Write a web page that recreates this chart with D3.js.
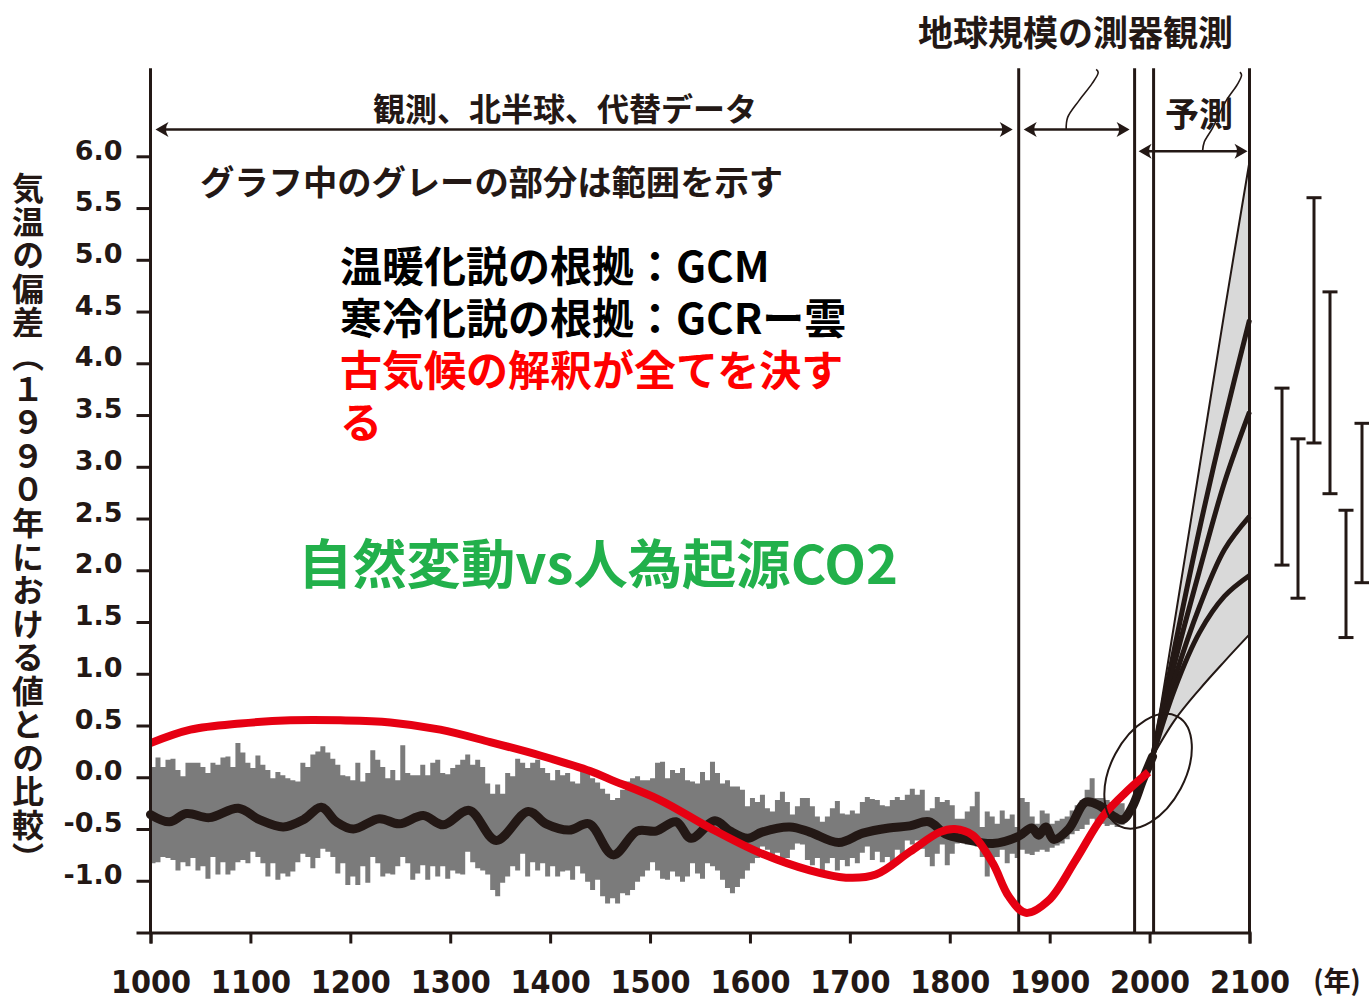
<!DOCTYPE html>
<html lang="ja">
<head>
<meta charset="utf-8">
<script src="https://cdn.jsdelivr.net/npm/d3@7"></script>
<style>
  html, body { margin: 0; padding: 0; background: #fff; }
  svg { display: block; }
</style>
</head>
<body>
<svg id="chart" width="1369" height="1000"></svg>
<script>
// ---------------- data ----------------
const yearTicks = [1000, 1100, 1200, 1300, 1400, 1500, 1600, 1700, 1800, 1900, 2000, 2100];
const valueTicks = [-1.5, -1.0, -0.5, 0.0, 0.5, 1.0, 1.5, 2.0, 2.5, 3.0, 3.5, 4.0, 4.5, 5.0, 5.5, 6.0];
const labelledTicks = [-1.0, -0.5, 0.0, 0.5, 1.0, 1.5, 2.0, 2.5, 3.0, 3.5, 4.0, 4.5, 5.0, 5.5, 6.0];

// period boundaries (years)
const periodLines = [1869, 1985, 2004, 2100];

// proxy range (grey band), 5-year bins starting at 1000
const bandStartYear = 1000;
const bandStepYears = 5;
const bandUpper = [
  0.10, 0.19, 0.10, 0.17, 0.18, 0.07, 0.01, 0.14, 0.14, 0.14,
  0.10, 0.04, 0.14, 0.12, 0.19, 0.20, 0.10, 0.33, 0.24, 0.14,
  0.09, 0.21, 0.12, 0.07, -0.01, 0.05, 0.02, -0.01, -0.03, -0.04,
  0.14, 0.10, 0.22, 0.25, 0.30, 0.24, 0.18, 0.12, 0.02, 0.01,
  -0.03, 0.14, -0.04, 0.04, 0.26, 0.17, 0.10, -0.01, 0.07, -0.03,
  0.31, 0.04, 0.02, 0.02, 0.12, 0.02, 0.14, 0.17, 0.04, 0.03,
  0.09, 0.12, 0.17, 0.22, 0.12, 0.17, 0.10, -0.06, -0.16, -0.07,
  -0.16, 0.04, 0.01, 0.18, 0.14, 0.09, 0.14, 0.17, 0.09, 0.04,
  -0.03, 0.07, 0.02, 0.04, -0.04, -0.06, 0.06, 0.05, -0.01, -0.05,
  -0.11, -0.16, -0.22, -0.20, -0.12, -0.04, -0.01, 0.01, -0.03, -0.03,
  -0.01, 0.14, 0.15, -0.01, 0.07, 0.04, 0.09, -0.03, -0.04, -0.06,
  0.05, -0.03, 0.15, 0.04, -0.06, -0.03, -0.09, -0.09, -0.12, -0.28,
  -0.20, -0.24, -0.17, -0.30, -0.33, -0.22, -0.14, -0.24, -0.36, -0.28,
  -0.20, -0.20, -0.28, -0.38, -0.43, -0.38, -0.30, -0.23, -0.35, -0.36,
  -0.32, -0.35, -0.24, -0.19, -0.21, -0.22, -0.27, -0.28, -0.22, -0.19,
  -0.22, -0.17, -0.11, -0.17, -0.12, -0.32, -0.30, -0.19, -0.24, -0.22,
  -0.27, -0.40, -0.40, -0.33, -0.28, -0.14, -0.48, -0.33, -0.38, -0.45,
  -0.32, -0.40, -0.36, -0.48, -0.20, -0.24, -0.38, -0.45, -0.32, -0.35,
  -0.45, -0.42, -0.40, -0.38, -0.32, -0.27, -0.22, -0.12, -0.01, -0.20,
  -0.20, -0.22, -0.24, -0.25, -0.25
];
const bandLower = [
  -0.83, -0.82, -0.77, -0.78, -0.80, -0.90, -0.82, -0.86, -0.78, -0.90,
  -0.86, -0.98, -0.77, -0.94, -0.82, -0.94, -0.90, -0.82, -0.80, -0.83,
  -0.72, -0.77, -0.83, -0.96, -0.83, -0.99, -0.93, -0.96, -0.91, -0.82,
  -0.74, -0.77, -0.88, -0.78, -0.69, -0.72, -0.77, -0.93, -0.83, -1.04,
  -0.96, -1.04, -0.86, -1.02, -0.77, -0.83, -0.96, -0.93, -0.94, -0.86,
  -0.77, -0.83, -0.99, -0.93, -0.85, -0.99, -0.86, -0.96, -0.86, -0.98,
  -0.90, -0.93, -0.94, -0.72, -0.82, -0.88, -0.90, -0.94, -1.09, -1.15,
  -1.02, -0.96, -0.86, -0.90, -0.74, -0.96, -0.82, -0.90, -0.83, -0.96,
  -0.86, -0.96, -0.91, -0.90, -0.99, -0.86, -0.93, -1.01, -1.09, -0.99,
  -1.15, -1.22, -1.17, -1.22, -1.12, -1.14, -1.09, -1.01, -0.96, -0.90,
  -0.82, -0.90, -0.98, -0.99, -0.91, -0.96, -1.01, -0.96, -0.83, -0.93,
  -0.98, -0.83, -0.86, -0.90, -0.99, -1.07, -1.12, -1.06, -0.98, -0.90,
  -0.83, -0.78, -0.67, -0.70, -0.77, -0.73, -0.83, -0.78, -0.70, -0.64,
  -0.65, -0.80, -0.85, -0.78, -0.90, -0.83, -0.78, -0.90, -0.80, -0.86,
  -0.78, -0.83, -0.73, -0.67, -0.80, -0.72, -0.82, -0.77, -0.86, -0.70,
  -0.77, -0.61, -0.65, -0.61, -0.69, -0.77, -0.86, -0.74, -0.65, -0.85,
  -0.74, -0.64, -0.61, -0.65, -0.64, -0.67, -0.77, -0.96, -0.82, -0.77,
  -0.70, -0.83, -0.74, -0.78, -0.70, -0.74, -0.75, -0.72, -0.70, -0.72,
  -0.68, -0.66, -0.64, -0.60, -0.55, -0.52, -0.50, -0.46, -0.40, -0.42,
  -0.45, -0.47, -0.46, -0.48, -0.46
];

// smoothed northern-hemisphere reconstruction + instrumental record
const smoothYears = [1000, 1019, 1036, 1059, 1088, 1109, 1133, 1153, 1171, 1186, 1203, 1229,
  1249, 1273, 1293, 1319, 1346, 1378, 1396, 1419, 1439, 1463, 1487, 1506, 1526, 1541, 1565,
  1580, 1598, 1612, 1640, 1660, 1689, 1713, 1739, 1760, 1779, 1796, 1816, 1843, 1869, 1882,
  1889, 1896, 1904, 1919, 1936, 1949, 1963, 1973, 1983, 1993, 2003];
const smoothValues = [-0.36, -0.43, -0.35, -0.39, -0.30, -0.41, -0.48, -0.41, -0.29, -0.43, -0.50, -0.40,
  -0.45, -0.37, -0.46, -0.32, -0.61, -0.33, -0.45, -0.51, -0.45, -0.75, -0.52, -0.52, -0.43, -0.59, -0.42,
  -0.52, -0.59, -0.53, -0.48, -0.53, -0.63, -0.54, -0.49, -0.47, -0.43, -0.55, -0.60, -0.64, -0.57, -0.49,
  -0.56, -0.48, -0.60, -0.50, -0.24, -0.27, -0.37, -0.41, -0.28, -0.03, 0.20];

// paleoclimate interpretation (red curve)
const redYears = [1000, 1040, 1090, 1140, 1190, 1240, 1290, 1340, 1390, 1440, 1460, 1510, 1560,
  1610, 1660, 1696, 1726, 1760, 1790, 1805, 1823, 1843, 1859, 1876, 1899, 1926, 1953, 1979, 1999];
const redValues = [0.33, 0.46, 0.52, 0.55, 0.55, 0.53, 0.46, 0.34, 0.21, 0.06, -0.02, -0.22, -0.49,
  -0.73, -0.90, -0.97, -0.94, -0.72, -0.53, -0.50, -0.56, -0.83, -1.15, -1.31, -1.19, -0.80, -0.38, -0.12, 0.05];

// projections to 2100
const projYears = [2003, 2025, 2050, 2075, 2100];
const projEnvelopeHigh = [0.20, 1.50, 3.00, 4.50, 5.95];
const projEnvelopeLow  = [0.20, 0.55, 0.85, 1.12, 1.38];
const projScenarioA = [0.20, 1.25, 2.40, 3.45, 4.42];
const projScenarioB = [0.20, 1.10, 2.00, 2.85, 3.53];
const projScenarioC = [0.20, 0.95, 1.65, 2.20, 2.52];
const projScenarioD = [0.20, 0.85, 1.40, 1.75, 1.95];

// 2100 ranges per scenario (bars right of the plot)
const rangeScenarios = ["A1B", "A1T", "A1FI", "A2", "B1", "B2"];
const rangeHigh = [3.76, 3.27, 5.60, 4.69, 2.58, 3.42];
const rangeLow  = [2.05, 1.73, 3.23, 2.74, 1.35, 1.88];

// ---------------- layout ----------------
const ink = "#231815";
const svg = d3.select("#chart");
const x = d3.scaleLinear().domain([1000, 2100]).range([150.5, 1249.5]);
const y = d3.scaleLinear().domain([-1.5, 6.0]).range([932.5, 156.3]);
const axisTopValue = 6.85;
const xRange = d3.scalePoint().domain(rangeScenarios).range([1282, 1362]);

const jp = "'Noto Sans CJK JP', 'Noto Sans CJK SC', sans-serif";

// ---------------- grey proxy band ----------------
const band = bandUpper.map((u, i) => ({ year: bandStartYear + i * bandStepYears, hi: u, lo: bandLower[i] }));
band.push({ year: band[band.length - 1].year + bandStepYears, hi: bandUpper[bandUpper.length - 1], lo: bandLower[bandLower.length - 1] });
svg.append("path")
  .datum(band)
  .attr("fill", "#7b7b7b")
  .attr("d", d3.area().curve(d3.curveStepAfter)
    .x(d => x(d.year)).y0(d => y(d.lo)).y1(d => y(d.hi)));

// ---------------- projection fan fill ----------------
const fan = projYears.map((yr, i) => ({ year: yr, lo: projEnvelopeLow[i], hi: projEnvelopeHigh[i] }));
svg.append("path")
  .datum(fan)
  .attr("fill", "#d9d9d9")
  .attr("d", d3.area().curve(d3.curveCatmullRom)
    .x(d => x(d.year)).y0(d => y(d.lo)).y1(d => y(d.hi)));

// ---------------- period boundaries ----------------
svg.selectAll("line.period")
  .data(periodLines)
  .join("line")
  .attr("class", "period")
  .attr("x1", d => x(d)).attr("x2", d => x(d))
  .attr("y1", y(axisTopValue)).attr("y2", y(-1.5))
  .attr("stroke", ink).attr("stroke-width", 3);

// ---------------- smoothed record ----------------
const lineGen = d3.line().curve(d3.curveCatmullRom.alpha(0.5)).x(d => x(d[0])).y(d => y(d[1]));
svg.append("path")
  .datum(smoothYears.map((yr, i) => [yr, smoothValues[i]]))
  .attr("fill", "none").attr("stroke", ink)
  .attr("stroke-width", 9).attr("stroke-linejoin", "round").attr("stroke-linecap", "round")
  .attr("d", lineGen);

// ---------------- projection lines ----------------
const envelopeLines = [projEnvelopeHigh, projEnvelopeLow];
svg.selectAll("path.envelope")
  .data(envelopeLines)
  .join("path")
  .attr("class", "envelope")
  .attr("fill", "none").attr("stroke", ink).attr("stroke-width", 2)
  .attr("d", vals => lineGen(projYears.map((yr, i) => [yr, vals[i]])));

const scenarioLines = [projScenarioA, projScenarioB, projScenarioC, projScenarioD];
svg.selectAll("path.scenario")
  .data(scenarioLines)
  .join("path")
  .attr("class", "scenario")
  .attr("fill", "none").attr("stroke", ink).attr("stroke-width", 5)
  .attr("d", vals => lineGen(projYears.map((yr, i) => [yr, vals[i]])));

// ---------------- red interpretation curve ----------------
svg.append("path")
  .datum(redYears.map((yr, i) => [yr, redValues[i]]))
  .attr("fill", "none").attr("stroke", "#e60012")
  .attr("stroke-width", 8).attr("stroke-linejoin", "round")
  .attr("d", lineGen);

// ---------------- circled transition ----------------
svg.append("ellipse")
  .attr("transform", `translate(${x(1998.5)},${y(0.06)}) rotate(28)`)
  .attr("rx", 37).attr("ry", 62)
  .attr("fill", "none").attr("stroke", ink).attr("stroke-width", 2);

// ---------------- range bars ----------------
const bars = svg.append("g").attr("stroke", ink).attr("stroke-width", 3);
rangeScenarios.forEach((s, i) => {
  const cx = xRange(s);
  bars.append("line").attr("x1", cx).attr("x2", cx).attr("y1", y(rangeHigh[i])).attr("y2", y(rangeLow[i]));
  bars.append("line").attr("x1", cx - 7.5).attr("x2", cx + 7.5).attr("y1", y(rangeHigh[i])).attr("y2", y(rangeHigh[i]));
  bars.append("line").attr("x1", cx - 7.5).attr("x2", cx + 7.5).attr("y1", y(rangeLow[i])).attr("y2", y(rangeLow[i]));
});

// ---------------- axes ----------------
const fmt1 = d3.format(".1f");
const yAxis = svg.append("g")
  .attr("transform", `translate(${x(1000)},0)`)
  .call(d3.axisLeft(y).tickValues(valueTicks).tickSize(14).tickPadding(14)
    .tickFormat(v => labelledTicks.includes(v) ? fmt1(v).replace("\u2212", "-") : ""));
yAxis.select(".domain").remove();
yAxis.selectAll(".tick line").attr("stroke", ink).attr("stroke-width", 3);
yAxis.selectAll(".tick text")
  .attr("fill", ink)
  .attr("dy", "0.1em")
  .style("font-family", "'DejaVu Sans', sans-serif")
  .style("font-weight", "bold")
  .style("font-size", "27px");
svg.append("line")
  .attr("x1", x(1000)).attr("x2", x(1000))
  .attr("y1", y(axisTopValue)).attr("y2", y(-1.5) + 1.5)
  .attr("stroke", ink).attr("stroke-width", 3);

const xAxis = svg.append("g")
  .attr("transform", `translate(0,${y(-1.5)})`)
  .call(d3.axisBottom(x).tickValues(yearTicks).tickSize(11).tickFormat(d3.format("d")));
xAxis.select(".domain").attr("stroke", ink).attr("stroke-width", 3);
xAxis.selectAll(".tick line").attr("stroke", ink).attr("stroke-width", 3);
xAxis.selectAll(".tick text")
  .attr("fill", ink)
  .attr("y", 49).attr("dy", "0.36em")
  .style("font-family", "'Liberation Sans Narrow', 'DejaVu Sans Condensed', sans-serif")
  .style("font-stretch", "condensed")
  .style("font-weight", "bold")
  .style("font-size", "32px");
svg.append("text")
  .attr("x", 1337).attr("y", y(-1.5) + 49).attr("dy", "0.36em")
  .attr("text-anchor", "middle").attr("fill", ink)
  .style("font-family", "'Liberation Sans Narrow', " + jp)
  .style("font-weight", "bold").style("font-size", "27px")
  .text("(年)");

// vertical y-axis title
svg.append("text")
  .attr("x", 28).attr("y", 172)
  .attr("fill", ink)
  .style("writing-mode", "vertical-rl")
  .style("text-orientation", "upright")
  .style("letter-spacing", "1.5px")
  .style("font-family", jp).style("font-weight", "bold").style("font-size", "32px")
  .text("気温の偏差︵１９９０年における値との比較︶");

// ---------------- period arrows ----------------
function arrowHead(g, tipX, tipY, dir) {
  const p = d3.path();
  p.moveTo(tipX, tipY);
  p.lineTo(tipX - dir * 13, tipY - 7.5);
  p.quadraticCurveTo(tipX - dir * 8, tipY, tipX - dir * 13, tipY + 7.5);
  p.closePath();
  g.append("path").attr("d", p.toString()).attr("fill", ink);
}
function periodArrow(x0, x1, yy) {
  const g = svg.append("g");
  g.append("line").attr("x1", x0 + 4).attr("x2", x1 - 4).attr("y1", yy).attr("y2", yy)
    .attr("stroke", ink).attr("stroke-width", 2.5);
  arrowHead(g, x0, yy, -1);
  arrowHead(g, x1, yy, 1);
}
const arrowRowY = y(6.26);
const forecastRowY = y(6.05);
periodArrow(x(1000) + 5, x(1869) - 6, arrowRowY);
periodArrow(x(1869) + 5, x(1985) - 5, arrowRowY);
periodArrow(x(1985) + 4, x(2100) - 2, forecastRowY);

// curly leader strokes
const leader = d3.line().curve(d3.curveCatmullRom);
const leaderA = [[0, 0], [1.5, -12], [13, -29], [26, -46], [32, -57], [30, -60]];
const leaderB = [[0, 0], [1.7, -9], [10, -23], [23.4, -50], [35, -67], [39, -76], [37.4, -79]];
svg.append("path")
  .attr("transform", `translate(${x(1916.5)},${arrowRowY})`)
  .attr("d", leader(leaderA)).attr("fill", "none").attr("stroke", ink).attr("stroke-width", 1.6);
svg.append("path")
  .attr("transform", `translate(${x(2053)},${forecastRowY})`)
  .attr("d", leader(leaderB)).attr("fill", "none").attr("stroke", ink).attr("stroke-width", 1.6);

// ---------------- annotations ----------------
function label(txt, lx, ly, size, color, width) {
  const t = svg.append("text")
    .attr("x", lx).attr("y", ly).attr("dominant-baseline", "central")
    .attr("fill", color || ink)
    .style("font-family", jp).style("font-weight", "bold").style("font-size", size + "px")
    .text(txt);
  if (width) t.attr("textLength", width).attr("lengthAdjust", "spacingAndGlyphs");
  return t;
}
label("地球規模の測器観測", 918, 30, 35);
label("観測、北半球、代替データ", 373, 107, 32);
label("予測", 1165, 112, 34);
label("グラフ中のグレーの部分は範囲を示す", 200, 180, 34.3);

// four-line argument block
const argLines = [
  { text: "温暖化説の根拠：GCM", color: "#000" },
  { text: "寒冷化説の根拠：GCRー雲", color: "#000" },
  { text: "古気候の解釈が全てを決す", color: "#ff0000" },
  { text: "る", color: "#ff0000" }
];
const argBlock = svg.append("text")
  .attr("x", 340).attr("y", 267)
  .style("font-family", jp).style("font-weight", "bold").style("font-size", "42px");
argBlock.selectAll("tspan")
  .data(argLines)
  .join("tspan")
  .attr("x", 340)
  .attr("dy", (d, i) => i === 0 ? "0.36em" : 52)
  .attr("fill", d => d.color)
  .text(d => d.text);

label("自然変動vs人為起源CO2", 298, 561, 53, "#22b04b", 600);
</script>
</body>
</html>
